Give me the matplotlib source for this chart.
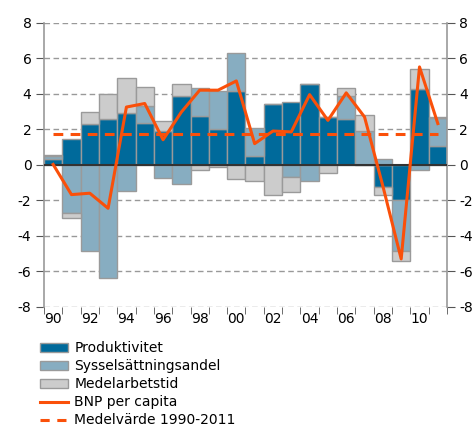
import matplotlib
matplotlib.use("Agg")
import matplotlib.pyplot as plt
import numpy as np
from matplotlib.patches import Patch
from matplotlib.lines import Line2D

# data (percent)
years = list(range(1990, 2012))
produktivitet = [0.32, 1.43, 2.28, 2.56, 2.92, 2.35, 1.90, 3.88, 2.75, 2.00, 4.16,
                 0.47, 3.41, 3.54, 4.54, 2.69, 2.56, 0.00, -1.23, -1.96, 4.29, 1.05]
syssel = [0.18, -2.71, -4.88, -6.38, -1.49, 0.96, -0.76, -1.07, 1.60, 2.18, 2.11,
          1.62, 0.00, -0.66, -0.89, 0.00, 1.32, 1.90, 0.34, -2.88, -0.32, 1.60]
medelarb = [0.06, -0.30, 0.71, 1.43, 1.94, 1.06, 0.55, 0.66, -0.28, -0.13, -0.79,
            -0.89, -1.70, -0.89, 0.00, -0.45, 0.47, 0.88, -0.47, -0.57, 1.13, 0.06]
bnp = [0.02, -1.68, -1.60, -2.45, 3.25, 3.45, 1.41, 2.97, 4.20, 4.20, 4.72,
       1.19, 1.90, 1.85, 3.95, 2.50, 4.05, 2.69, -1.20, -5.30, 5.51, 2.32]
medel = 1.72
tick_labels = ["90", "92", "94", "96", "98", "00", "02", "04", "06", "08", "10"]

c_dark = "#006a9b"
c_light = "#87adc1"
c_gray = "#cccccc"
c_orange = "#fa500a"
c_edge = "#9a9a9a"

fig = plt.figure(figsize=(4.74, 4.28), dpi=100)
ax = fig.add_axes([0.0928, 0.283, 0.8502, 0.664])

x = np.arange(len(years))
pos = np.zeros(len(years))
neg = np.zeros(len(years))
for vals, col in [(produktivitet, c_dark), (syssel, c_light), (medelarb, c_gray)]:
    vals = np.array(vals)
    bottom = np.where(vals >= 0, pos, neg)
    ax.bar(x, vals, width=1.0, bottom=bottom, color=col, edgecolor=c_edge,
           linewidth=1.0, zorder=2)
    pos = pos + np.clip(vals, 0, None)
    neg = neg + np.clip(vals, None, 0)

ax.axhline(0, color="#333333", lw=1.5, zorder=3)
ax.plot(x, bnp, color=c_orange, lw=2.2, zorder=5)
ax.plot([x[0], x[-1]], [medel, medel], color=c_orange, lw=2.2,
        dashes=(3.2, 2.4), zorder=4)

ax.set_xlim(-0.5, len(years) - 0.5)
ax.set_ylim(-8, 8)
yt = np.arange(-8, 9, 2)
ax.set_yticks(yt)
ax.set_yticklabels([str(v) for v in yt])
for v in yt:
    if v != 0:
        ax.axhline(v, color="#999999", lw=1.0, ls=(0, (4, 2.5)), zorder=1)

ax.set_xticks(x[::2])
ax.set_xticklabels(tick_labels)
ax.set_xticks(np.arange(-0.5, len(years) + 0.5, 1), minor=True)
ax.tick_params(axis="x", which="major", length=0, pad=4, labelsize=10)
ax.tick_params(axis="x", which="minor", length=5, color="#555555", direction="out")
ax.tick_params(axis="y", length=6, color="#555555", labelsize=10, pad=3,
               right=True, labelright=True)

for s in ["top", "bottom"]:
    ax.spines[s].set_visible(False)
for s in ["left", "right"]:
    ax.spines[s].set_color("#999999")
    ax.spines[s].set_linewidth(1.2)

handles = [
    Patch(facecolor=c_dark, edgecolor=c_edge, label="Produktivitet"),
    Patch(facecolor=c_light, edgecolor=c_edge, label="Sysselsättningsandel"),
    Patch(facecolor=c_gray, edgecolor=c_edge, label="Medelarbetstid"),
    Line2D([], [], color=c_orange, lw=2.2, label="BNP per capita"),
    Line2D([], [], color=c_orange, lw=2.2, dashes=(3, 2.5), label="Medelvärde 1990-2011"),
]
fig.legend(handles=handles, loc="upper left", bbox_to_anchor=(0.085, 0.203),
           frameon=False, fontsize=10, handlelength=2.0, handleheight=0.6,
           handletextpad=0.45, labelspacing=0.29, borderaxespad=0, borderpad=0)

fig.savefig("out.png", dpi=100)
